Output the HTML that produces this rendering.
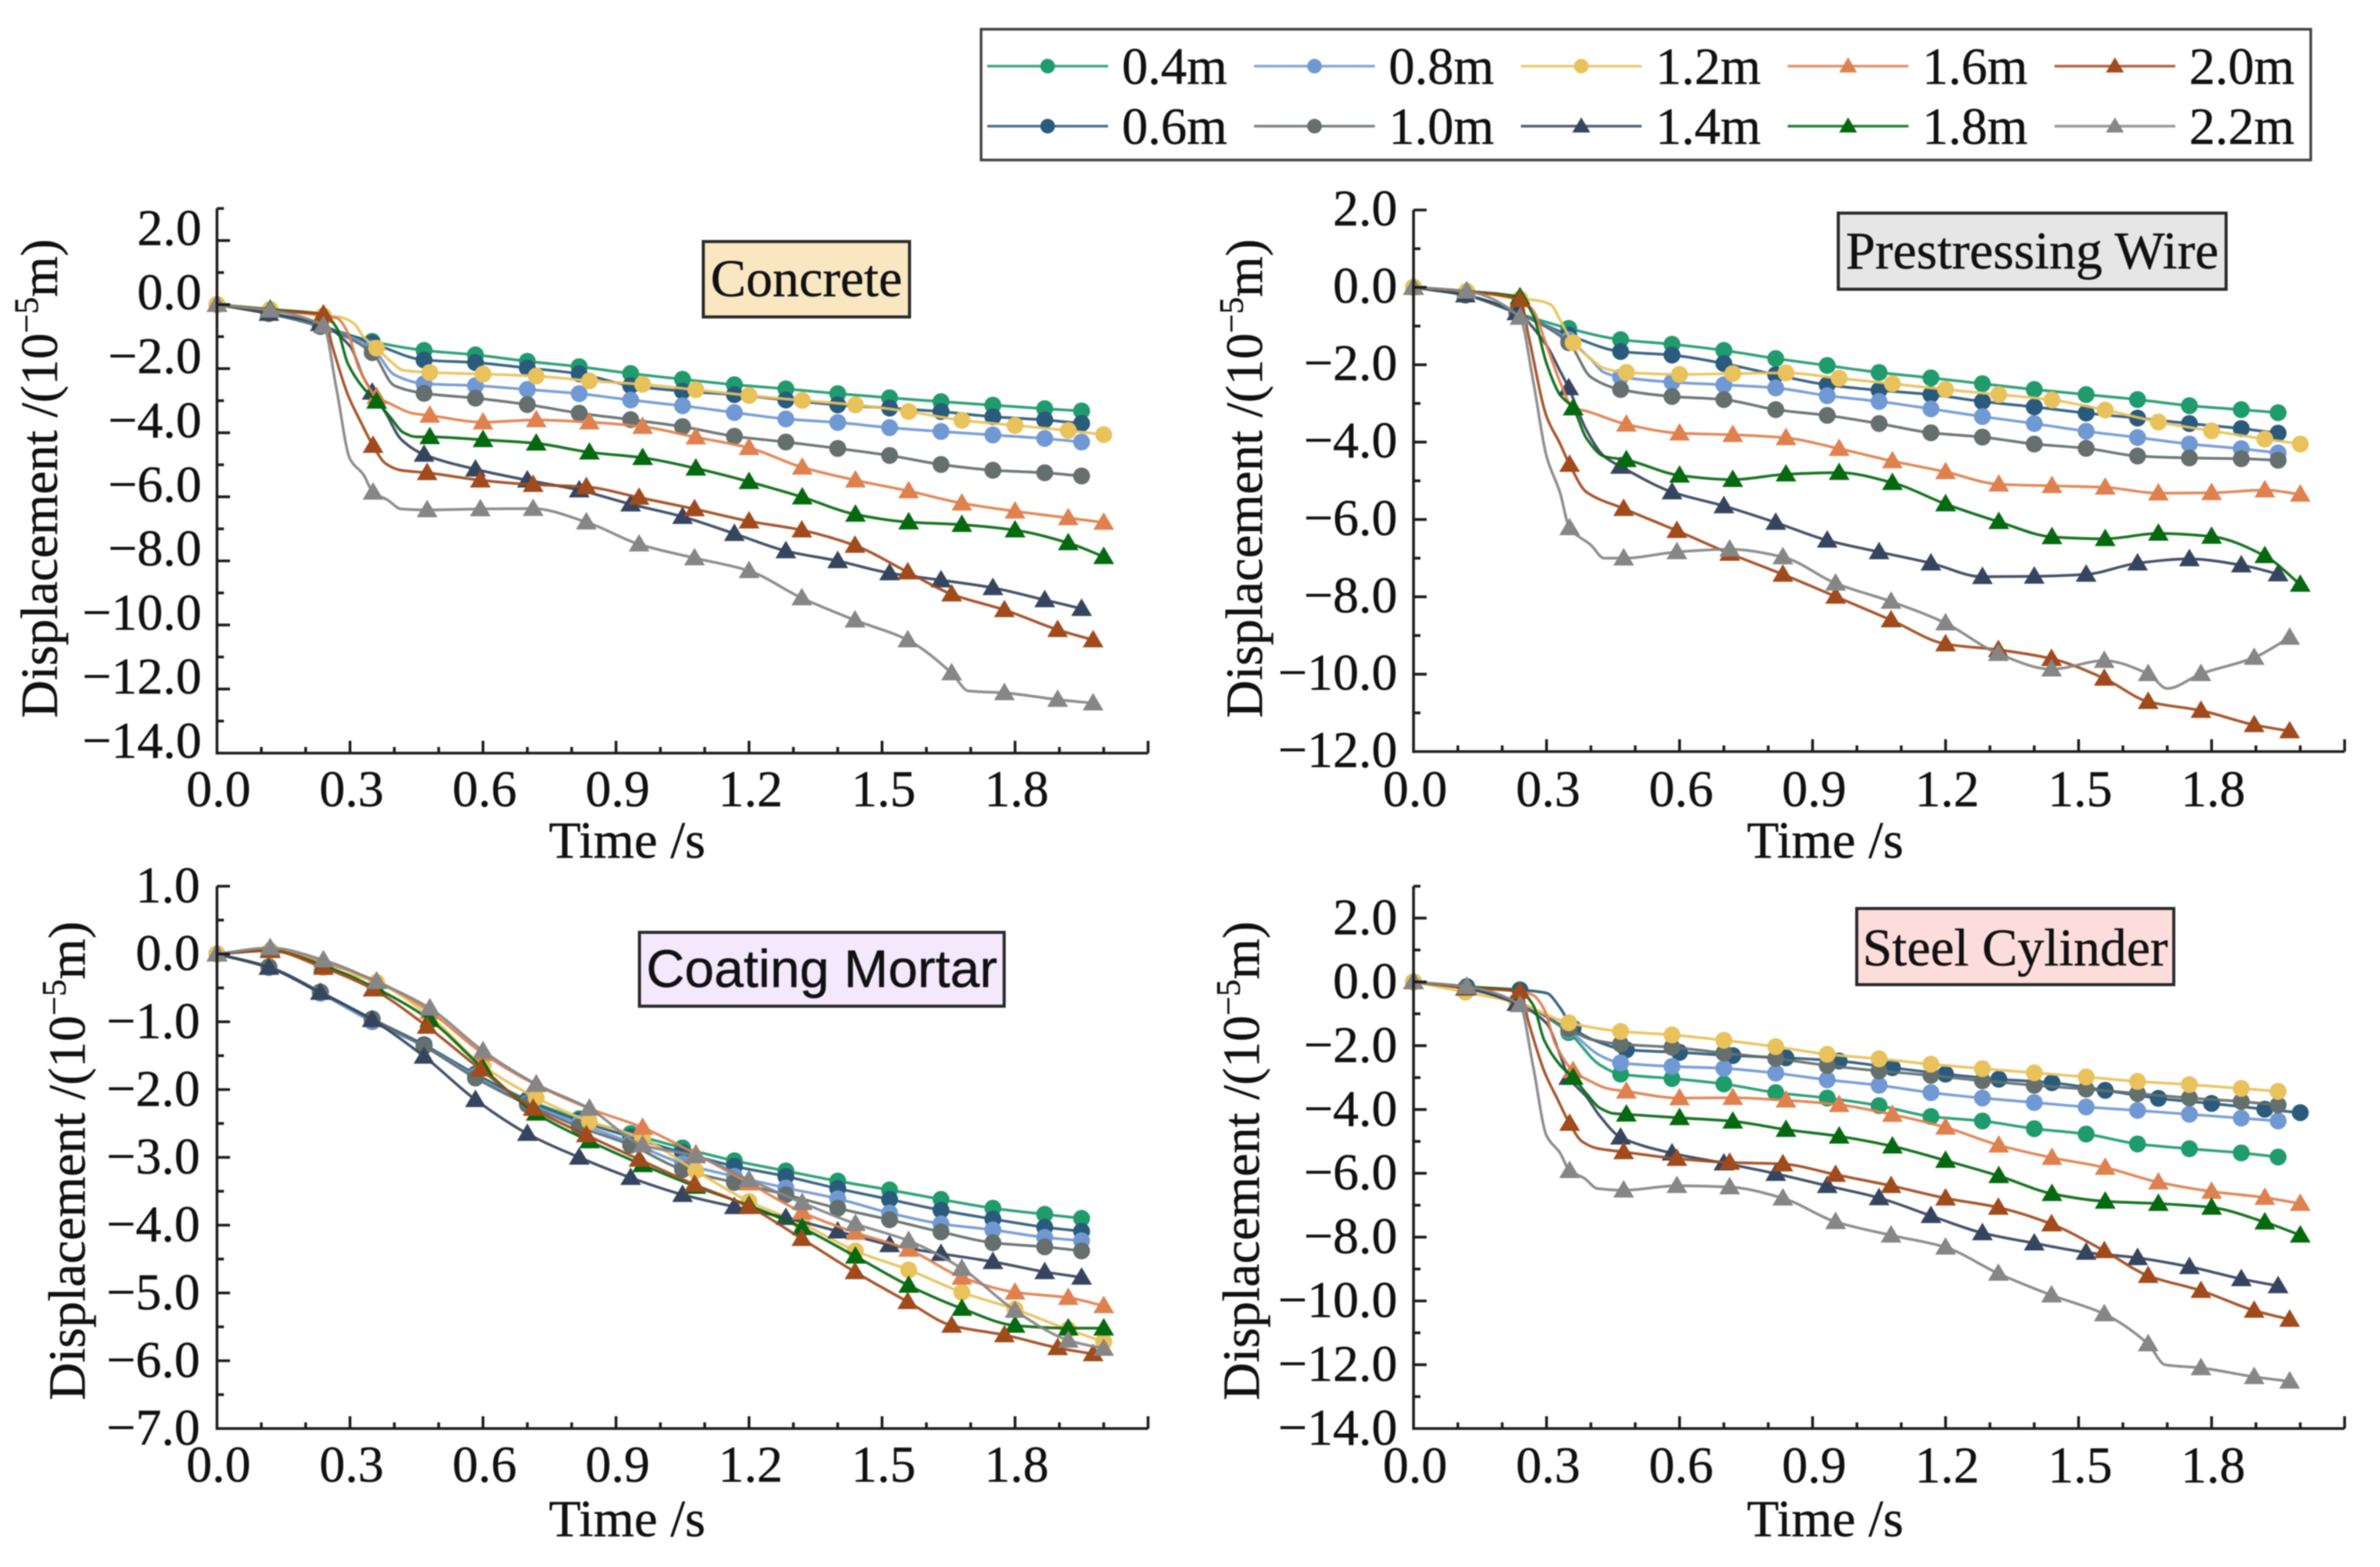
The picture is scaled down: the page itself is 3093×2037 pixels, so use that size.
<!DOCTYPE html>
<html lang="en">
<head>
<meta charset="utf-8">
<title>Displacement time histories</title>
<style>
html,body{margin:0;padding:0;background:#fff;width:3093px;height:2037px;overflow:hidden}
svg{display:block;font-family:"Liberation Serif",serif;filter:blur(0.7px)}
text{stroke:#111;stroke-width:0.5px}
</style>
</head>
<body>
<svg id="figure" xmlns="http://www.w3.org/2000/svg" width="3093" height="2037" viewBox="0 0 3093 2037"></svg>
<script>
// Marker times (s)
const timesA = [0,0.117,0.233,0.35,0.467,0.583,0.7,0.817,0.933,1.05,1.167,1.283,1.4,1.517,1.633,1.75,1.867,1.95];
const timesB = [0,0.12,0.24,0.36,0.48,0.6,0.72,0.84,0.96,1.08,1.2,1.32,1.44,1.56,1.68,1.8,1.92,2.0];
const timesC = [0,0.12,0.24,0.352,0.474,0.594,0.713,0.833,0.952,1.077,1.2,1.319,1.439,1.558,1.657,1.776,1.896,1.976];

const seriesNames = ['0.4m','0.6m','0.8m','1.0m','1.2m','1.4m','1.6m','1.8m','2.0m','2.2m'];
const xTickValues = [0,0.3,0.6,0.9,1.2,1.5,1.8];
const concreteYTicks = [2,0,-2,-4,-6,-8,-10,-12,-14];
const wireYTicks = [2,0,-2,-4,-6,-8,-10,-12];
const mortarYTicks = [1,0,-1,-2,-3,-4,-5,-6,-7];
const steelYTicks = [2,0,-2,-4,-6,-8,-10,-12,-14];

// Concrete
const concrete04 = [0,-0.25,-0.66,-1.15,-1.43,-1.57,-1.77,-1.94,-2.15,-2.33,-2.5,-2.63,-2.78,-2.91,-3.03,-3.14,-3.25,-3.32];
const concrete06 = [0,-0.28,-0.68,-1.2,-1.73,-1.81,-1.98,-2.16,-2.53,-2.7,-2.81,-2.98,-3.13,-3.23,-3.34,-3.5,-3.6,-3.71];
const concrete08 = [0,-0.28,-0.68,-1.36,-2.47,-2.53,-2.65,-2.78,-2.98,-3.16,-3.37,-3.57,-3.68,-3.84,-3.96,-4.07,-4.18,-4.29];
const concrete10 = [0,-0.28,-0.68,-1.5,-2.77,-2.92,-3.12,-3.39,-3.59,-3.81,-4.11,-4.29,-4.49,-4.71,-4.99,-5.17,-5.25,-5.35];
const concrete12 = [0,-0.15,-0.35,-1.36,-2.12,-2.17,-2.23,-2.38,-2.49,-2.66,-2.84,-2.99,-3.13,-3.34,-3.61,-3.77,-3.93,-4.06];
const concrete14 = [0,-0.28,-0.6,-2.74,-4.68,-5.14,-5.48,-5.79,-6.23,-6.62,-7.15,-7.69,-8.0,-8.38,-8.6,-8.84,-9.22,-9.49];
const concrete16 = [0,-0.15,-0.35,-2.88,-3.46,-3.67,-3.6,-3.67,-3.81,-4.14,-4.47,-5.08,-5.48,-5.82,-6.2,-6.45,-6.66,-6.8];
const concrete18 = [0,-0.15,-0.3,-3.02,-4.13,-4.22,-4.33,-4.61,-4.78,-5.11,-5.53,-6.01,-6.55,-6.79,-6.87,-7.04,-7.44,-7.87];
const concrete20 = [0,-0.18,-0.3,-4.4,-5.25,-5.48,-5.62,-5.69,-6.02,-6.38,-6.76,-7.04,-7.52,-8.35,-9.04,-9.53,-10.15,-10.47];
const concrete22 = [0,-0.18,-0.66,-5.86,-6.41,-6.38,-6.37,-6.79,-7.48,-7.91,-8.31,-9.16,-9.85,-10.47,-11.5,-12.12,-12.33,-12.44];
const concreteExtra08 = [[0.4,-2.19]];
const concreteExtra10 = [[0.4,-2.53]];
const concreteExtra12 = [[0.28,-0.4],[0.31,-0.6],[0.33,-1.0],[0.39,-1.75],[0.42,-2.05]];
const concreteExtra14 = [[0.3,-1.3],[0.33,-2.26],[0.38,-3.37],[0.415,-4.2]];
const concreteExtra16 = [[0.27,-0.42],[0.295,-0.87],[0.32,-1.98],[0.39,-3.09],[0.44,-3.39]];
const concreteExtra18 = [[0.27,-0.73],[0.295,-1.84],[0.33,-2.6],[0.39,-3.5],[0.42,-3.99],[0.45,-4.13]];
const concreteExtra20 = [[0.26,-1.29],[0.295,-2.81],[0.326,-3.71],[0.38,-4.96],[0.415,-5.17]];
const concreteExtra22 = [[0.27,-2.67],[0.3,-4.82],[0.33,-5.3],[0.385,-6.1],[0.415,-6.38],[1.695,-12.06]];

// Prestressing wire
const wire04 = [0,-0.2,-0.66,-1.06,-1.35,-1.47,-1.63,-1.84,-2.02,-2.2,-2.34,-2.49,-2.64,-2.77,-2.9,-3.06,-3.16,-3.24];
const wire06 = [0,-0.2,-0.66,-1.23,-1.66,-1.75,-1.97,-2.26,-2.52,-2.66,-2.77,-2.95,-3.09,-3.25,-3.38,-3.52,-3.65,-3.77];
const wire08 = [0,-0.2,-0.66,-1.35,-2.32,-2.45,-2.52,-2.6,-2.8,-2.95,-3.14,-3.34,-3.52,-3.72,-3.88,-4.05,-4.17,-4.28];
const wire10 = [0,-0.2,-0.66,-1.43,-2.64,-2.82,-2.9,-3.16,-3.31,-3.52,-3.76,-3.87,-4.05,-4.16,-4.36,-4.41,-4.43,-4.47];
const wire12 = [0,-0.1,-0.3,-1.43,-2.2,-2.25,-2.23,-2.21,-2.35,-2.49,-2.64,-2.77,-2.91,-3.17,-3.48,-3.71,-3.92,-4.05];
const wire14 = [0,-0.2,-0.66,-2.6,-4.63,-5.29,-5.65,-6.08,-6.54,-6.84,-7.13,-7.48,-7.47,-7.42,-7.13,-7.02,-7.18,-7.41];
const wire16 = [0,-0.1,-0.3,-3.12,-3.54,-3.77,-3.81,-3.89,-4.17,-4.49,-4.77,-5.09,-5.13,-5.17,-5.32,-5.31,-5.24,-5.35];
const wire18 = [0,-0.1,-0.25,-3.12,-4.46,-4.86,-4.97,-4.83,-4.79,-5.05,-5.6,-6.06,-6.45,-6.5,-6.36,-6.44,-6.94,-7.68];
const wire20 = [0,-0.1,-0.32,-4.58,-5.72,-6.29,-6.88,-7.42,-7.99,-8.6,-9.22,-9.37,-9.6,-10.11,-10.71,-10.94,-11.31,-11.47];
const wire22 = [0,-0.1,-0.78,-6.22,-7.0,-6.84,-6.77,-6.97,-7.65,-8.12,-8.68,-9.47,-9.87,-9.65,-9.99,-9.99,-9.57,-9.05];
const wireExtra08 = [[0.4,-1.86],[0.43,-2.2]];
const wireExtra10 = [[0.4,-2.32]];
const wireExtra12 = [[0.28,-0.34],[0.31,-0.45],[0.33,-0.83],[0.39,-1.75],[0.43,-2.09]];
const wireExtra14 = [[0.3,-1.5],[0.33,-2.15],[0.39,-3.69],[0.43,-4.37]];
const wireExtra16 = [[0.27,-0.6],[0.3,-1.5],[0.33,-2.43],[0.39,-3.2]];
const wireExtra18 = [[0.27,-0.72],[0.3,-1.97],[0.33,-2.77],[0.39,-3.9],[0.43,-4.37]];
const wireExtra20 = [[0.26,-1.29],[0.3,-3.34],[0.33,-4.03],[0.39,-5.29]];
const wireExtra22 = [[0.27,-2.43],[0.3,-4.37],[0.33,-5.29],[0.4,-6.66],[0.43,-7.0],[1.7,-10.37]];

// Coating mortar
const mortar04 = [0,-0.19,-0.56,-0.96,-1.34,-1.77,-2.15,-2.43,-2.65,-2.86,-3.05,-3.2,-3.35,-3.48,-3.62,-3.75,-3.84,-3.9];
const mortar06 = [0,-0.19,-0.56,-0.96,-1.34,-1.78,-2.17,-2.46,-2.7,-2.93,-3.13,-3.28,-3.46,-3.62,-3.78,-3.91,-4.03,-4.09];
const mortar08 = [0,-0.2,-0.58,-1.0,-1.36,-1.8,-2.2,-2.5,-2.78,-3.09,-3.28,-3.45,-3.61,-3.82,-3.98,-4.07,-4.18,-4.23];
const mortar10 = [0,-0.19,-0.56,-0.97,-1.36,-1.83,-2.22,-2.55,-2.82,-3.18,-3.37,-3.55,-3.75,-3.92,-4.1,-4.26,-4.32,-4.38];
const mortar12 = [0,0.05,-0.2,-0.42,-0.92,-1.65,-2.12,-2.47,-2.72,-3.2,-3.65,-3.98,-4.38,-4.66,-4.99,-5.24,-5.54,-5.72];
const mortar14 = [0,-0.2,-0.57,-0.97,-1.51,-2.15,-2.65,-3.0,-3.3,-3.55,-3.73,-3.89,-4.09,-4.29,-4.42,-4.54,-4.69,-4.77];
const mortar16 = [0,0.06,-0.13,-0.4,-0.85,-1.47,-1.93,-2.28,-2.56,-2.95,-3.38,-3.81,-4.11,-4.36,-4.77,-4.99,-5.07,-5.19];
const mortar18 = [0,0.05,-0.17,-0.51,-0.97,-1.69,-2.35,-2.76,-3.11,-3.43,-3.71,-4.04,-4.46,-4.89,-5.23,-5.48,-5.52,-5.52];
const mortar20 = [0,0.05,-0.2,-0.52,-1.07,-1.7,-2.28,-2.67,-3.03,-3.4,-3.73,-4.2,-4.69,-5.13,-5.48,-5.62,-5.81,-5.9];
const mortar22 = [0,0.09,-0.09,-0.41,-0.8,-1.43,-1.92,-2.28,-2.82,-2.98,-3.33,-3.67,-3.98,-4.23,-4.64,-5.26,-5.7,-5.82];

// Steel cylinder
const steel04 = [0,-0.2,-0.62,-1.59,-2.89,-3.03,-3.2,-3.47,-3.64,-3.88,-4.22,-4.36,-4.6,-4.77,-5.08,-5.23,-5.36,-5.49];
const steel06 = [0,-0.15,-0.25,-1.45,-2.13,-2.21,-2.31,-2.38,-2.48,-2.69,-2.89,-3.05,-3.16,-3.4,-3.65,-3.81,-3.99,-4.1];
const steel08 = [0,-0.2,-0.62,-1.52,-2.54,-2.65,-2.71,-2.86,-3.07,-3.24,-3.47,-3.64,-3.78,-3.92,-4.03,-4.15,-4.27,-4.36];
const steel10 = [0,-0.2,-0.62,-1.48,-1.95,-2.05,-2.23,-2.4,-2.62,-2.79,-2.93,-3.1,-3.24,-3.36,-3.5,-3.64,-3.75,-3.86];
const steel12 = [0,-0.32,-0.65,-1.28,-1.55,-1.66,-1.83,-2.03,-2.27,-2.41,-2.58,-2.72,-2.85,-2.98,-3.12,-3.22,-3.34,-3.43];
const steel14 = [0,-0.2,-0.68,-3.0,-4.87,-5.37,-5.68,-6.01,-6.39,-6.77,-7.33,-7.87,-8.19,-8.48,-8.65,-8.93,-9.31,-9.53];
const steel16 = [0,-0.15,-0.3,-2.79,-3.43,-3.64,-3.63,-3.71,-3.85,-4.16,-4.56,-5.12,-5.51,-5.82,-6.28,-6.57,-6.76,-6.95];
const steel18 = [0,-0.15,-0.3,-3.0,-4.15,-4.26,-4.37,-4.63,-4.84,-5.15,-5.6,-6.08,-6.64,-6.88,-6.95,-7.07,-7.53,-7.94];
const steel20 = [0,-0.18,-0.3,-4.44,-5.33,-5.54,-5.66,-5.71,-6.04,-6.39,-6.78,-7.07,-7.59,-8.43,-9.21,-9.68,-10.3,-10.58];
const steel22 = [0,-0.15,-0.72,-5.92,-6.53,-6.39,-6.43,-6.78,-7.52,-7.94,-8.32,-9.14,-9.82,-10.41,-11.35,-12.1,-12.38,-12.52];
const steelExtra04 = [[0.42,-2.6]];
const steelExtra06 = [[0.3,-0.35],[0.33,-0.8],[0.42,-1.9]];
const steelExtra08 = [[0.42,-2.3]];
const steelExtra10 = [[0.4,-1.8]];
const steelExtra14 = [[0.3,-1.3],[0.33,-2.26],[0.39,-3.6],[0.42,-4.2]];
const steelExtra16 = [[0.27,-0.42],[0.295,-0.87],[0.32,-1.95],[0.39,-3.05],[0.44,-3.35]];
const steelExtra18 = [[0.27,-0.73],[0.295,-1.84],[0.33,-2.6],[0.39,-3.5],[0.42,-3.95],[0.45,-4.12]];
const steelExtra20 = [[0.26,-1.29],[0.295,-2.81],[0.326,-3.71],[0.38,-5.0],[0.415,-5.22]];
const steelExtra22 = [[0.27,-2.67],[0.3,-4.82],[0.33,-5.35],[0.385,-6.15],[0.415,-6.48],[1.695,-12.0]];

const concreteValues = [concrete04,concrete06,concrete08,concrete10,concrete12,concrete14,concrete16,concrete18,concrete20,concrete22];
const wireValues = [wire04,wire06,wire08,wire10,wire12,wire14,wire16,wire18,wire20,wire22];
const mortarValues = [mortar04,mortar06,mortar08,mortar10,mortar12,mortar14,mortar16,mortar18,mortar20,mortar22];
const steelValues = [steel04,steel06,steel08,steel10,steel12,steel14,steel16,steel18,steel20,steel22];
const concreteExtras = [[],[],concreteExtra08,concreteExtra10,concreteExtra12,concreteExtra14,concreteExtra16,concreteExtra18,concreteExtra20,concreteExtra22];
const wireExtras = [[],[],wireExtra08,wireExtra10,wireExtra12,wireExtra14,wireExtra16,wireExtra18,wireExtra20,wireExtra22];
const mortarExtras = [[],[],[],[],[],[],[],[],[],[]];
const steelExtras = [steelExtra04,steelExtra06,steelExtra08,steelExtra10,[],steelExtra14,steelExtra16,steelExtra18,steelExtra20,steelExtra22];
const defaultTimes = [timesA,timesA,timesA,timesA,timesB,timesA,timesB,timesB,timesC,timesC];
const mortarTimes = [timesA,timesA,timesA,timesA,timesB,timesA,timesB,timesB,timesC,timesB];
const steelTimes = [timesA,timesB,timesA,timesA,timesA,timesA,timesB,timesB,timesC,timesC];

const seriesColors = ['#1f9b6c','#2a5a7c','#7099d3','#646f6e','#e9c25c','#35455f','#df814f','#05690f','#a14a1c','#868686'];
const seriesShapes = ['circle','circle','circle','circle','circle','tri','tri','tri','tri','tri'];

const panels = [
 {key:'concrete',L:282,R:1492,tY:271,bY:979,yMax:3,yMin:-14,minor:1,ticks:concreteYTicks,vals:concreteValues,times:defaultTimes,extras:concreteExtras,labelShift:6,labelR:262,xBase:1048,titleX:815,titleBase:1115,yTitleX:74,yTitleC:622},
 {key:'wire',L:1837,R:3047,tY:273,bY:977,yMax:2,yMin:-12,minor:1,ticks:wireYTicks,vals:wireValues,times:defaultTimes,extras:wireExtras,labelShift:20,labelR:1816,xBase:1048,titleX:2372,titleBase:1115,yTitleX:1640,yTitleC:622},
 {key:'mortar',L:282,R:1492,tY:1152,bY:1857,yMax:1,yMin:-7,minor:0.5,ticks:mortarYTicks,vals:mortarValues,times:mortarTimes,extras:mortarExtras,labelShift:21,labelR:260,xBase:1926,titleX:815,titleBase:1997,yTitleX:110,yTitleC:1509},
 {key:'steel',L:1837,R:3047,tY:1152,bY:1857,yMax:3,yMin:-14,minor:1,ticks:steelYTicks,vals:steelValues,times:steelTimes,extras:steelExtras,labelShift:21,labelR:1816,xBase:1927,titleX:2372,titleBase:1997,yTitleX:1636,yTitleC:1509}
];
const XMAX = 2.1;
const svg = document.getElementById('figure');
const NS = 'http://www.w3.org/2000/svg';

function mk(tag, attrs, parent){
  const node = document.createElementNS(NS, tag);
  for(const k in attrs) node.setAttribute(k, attrs[k]);
  parent.appendChild(node);
  return node;
}
function fmt(v){ return (v<0?'\u2212':'') + Math.abs(v).toFixed(1); }
function curve(pts){
  const n = pts.length, m = new Array(n).fill(0), s = [];
  for(let i=0;i<n-1;i++) s.push((pts[i+1][1]-pts[i][1])/Math.max(pts[i+1][0]-pts[i][0],0.01));
  m[0]=s[0]; m[n-1]=s[n-2];
  for(let i=1;i<n-1;i++) m[i] = s[i-1]*s[i]<=0 ? 0 : 2*s[i-1]*s[i]/(s[i-1]+s[i]);
  let d = 'M'+pts[0][0].toFixed(1)+' '+pts[0][1].toFixed(1);
  for(let i=0;i<n-1;i++){
    const dx=(pts[i+1][0]-pts[i][0])/3;
    d += 'C'+(pts[i][0]+dx).toFixed(1)+' '+(pts[i][1]+m[i]*dx).toFixed(1)+' '+(pts[i+1][0]-dx).toFixed(1)+' '+(pts[i+1][1]-m[i+1]*dx).toFixed(1)+' '+pts[i+1][0].toFixed(1)+' '+pts[i+1][1].toFixed(1);
  }
  return d;
}
function marker(shape, x, y, color, size, parent){
  if(shape==='circle') return mk('circle',{cx:x.toFixed(1),cy:y.toFixed(1),r:size,fill:color},parent);
  const h=size*1.15;
  return mk('polygon',{points:(x.toFixed(1))+','+(y-h*1.05).toFixed(1)+' '+(x+h*1.07).toFixed(1)+','+(y+h*0.75).toFixed(1)+' '+(x-h*1.07).toFixed(1)+','+(y+h*0.75).toFixed(1),fill:color},parent);
}

panels.forEach(function(p){
  const xs = function(t){ return p.L + (t/XMAX)*(p.R-p.L); };
  const ys = function(v){ return p.tY + (p.yMax-v)/(p.yMax-p.yMin)*(p.bY-p.tY); };
  const g = mk('g',{},svg);
  
  

  // series
  p.vals.forEach(function(vals,i){
    const times = p.times[i];
    const sg = mk('g',{},g);
    
    
    const all = times.map(function(t,j){ return [t,vals[j]]; }).concat(p.extras[i]).sort(function(a,b){ return a[0]-b[0]; });
    const line = mk('path',{d:curve(all.map(function(q){ return [xs(q[0]),ys(q[1])]; })),fill:'none',stroke:seriesColors[i],'stroke-width':3.6,'stroke-opacity':0.92},sg);
    
    
    times.forEach(function(t,j){
      const mark = marker(seriesShapes[i],xs(t),ys(vals[j]),seriesColors[i],11,sg);
      
      
    });
  });

  // axes
  const ax = mk('g',{stroke:'#1c1c1c','stroke-width':3.6,fill:'none'},g);
  
  
  const yAxis = mk('line',{x1:p.L,x2:p.L,y1:p.tY,y2:p.bY+1.7},ax);
  
  
  const xAxis = mk('line',{x1:p.L,x2:p.R,y1:p.bY,y2:p.bY},ax);
  
  
  for(let k=1;k<=21;k++){
    const major = k%3===0;
    const px = xs(k/10);
    const tick = mk('line',{x1:px,x2:px,y1:p.bY,y2:p.bY-(major?16:8)},ax);
    
    
  }
  const nY = Math.round((p.yMax-p.yMin)/p.minor);
  for(let k=0;k<nY;k++){
    const v = p.yMax-k*p.minor;
    const major = p.ticks.indexOf(v)>=0;
    const tick = mk('line',{x1:p.L,x2:p.L+(major?17:9),y1:ys(v),y2:ys(v)},ax);
    
    
  }

  // labels
  xTickValues.forEach(function(v){
    const t = mk('text',{x:xs(v)+2,y:p.xBase,'text-anchor':'middle','font-size':67,fill:'#111'},g);
    
    
    t.textContent = v.toFixed(1);
  });
  p.ticks.forEach(function(v){
    const t = mk('text',{x:p.labelR,y:ys(v)+p.labelShift,'text-anchor':'end','font-size':67,fill:'#111'},g);
    
    
    t.textContent = fmt(v);
  });
  const xt = mk('text',{x:p.titleX,y:p.titleBase,'text-anchor':'middle','font-size':68,fill:'#111'},g);
  
  
  xt.textContent = 'Time /s';
  const yt = mk('text',{transform:'translate('+p.yTitleX+','+p.yTitleC+') rotate(-90)','text-anchor':'middle','font-size':68,fill:'#111'},g);
  
  
  yt.appendChild(document.createTextNode('Displacement /(10'));
  const sup = mk('tspan',{dy:-25,'font-size':44},yt);
  sup.textContent = '\u22125';
  const rest = mk('tspan',{dy:25},yt);
  rest.textContent = 'm)';
});

// annotation boxes
const tagLabels = ['Concrete','Prestressing Wire','Coating Mortar','Steel Cylinder'];
const tagFills = ['#f9e7c2','#e6e6e6','#f3e8fc','#fddcdc'];
const tagFonts = ['"Liberation Serif",serif','"Liberation Serif",serif','"Liberation Sans",sans-serif','"Liberation Serif",serif'];
const tagRects = [[914,314,268,98],[2389,277,504,99],[831,1212,474,96],[2413,1181,412,99]];
const tagBaselines = [385,349,1283,1255];
tagLabels.forEach(function(name,i){
  const r = tagRects[i];
  const g = mk('g',{},svg);
  
  
  mk('rect',{x:r[0],y:r[1],width:r[2],height:r[3],fill:tagFills[i],stroke:'#2a2a2a','stroke-width':4},g);
  const t = mk('text',{x:r[0]+r[2]/2,y:tagBaselines[i],'text-anchor':'middle','font-size':69,fill:'#111','font-family':tagFonts[i]},g);
  t.textContent = name;
});

// legend
const legend = mk('g',{},svg);


const legendBox = mk('rect',{x:1275,y:38,width:1728,height:170,fill:'#fff',stroke:'#444','stroke-width':3.5},legend);


seriesNames.forEach(function(name,i){
  const col = Math.floor(i/2), row = i%2;
  const x0 = 1283 + col*346.75, y0 = row?164:86;
  const e = mk('g',{},legend);
  
  
  mk('line',{x1:x0,x2:x0+157,y1:y0,y2:y0,stroke:seriesColors[i],'stroke-width':3.6,'stroke-opacity':0.85},e);
  marker(seriesShapes[i],x0+78.5,y0,seriesColors[i],9.5,e);
  const t = mk('text',{x:x0+175,y:row?187:109,'font-size':67.5,fill:'#111'},e);
  t.textContent = name;
});
</script>
</body>
</html>
